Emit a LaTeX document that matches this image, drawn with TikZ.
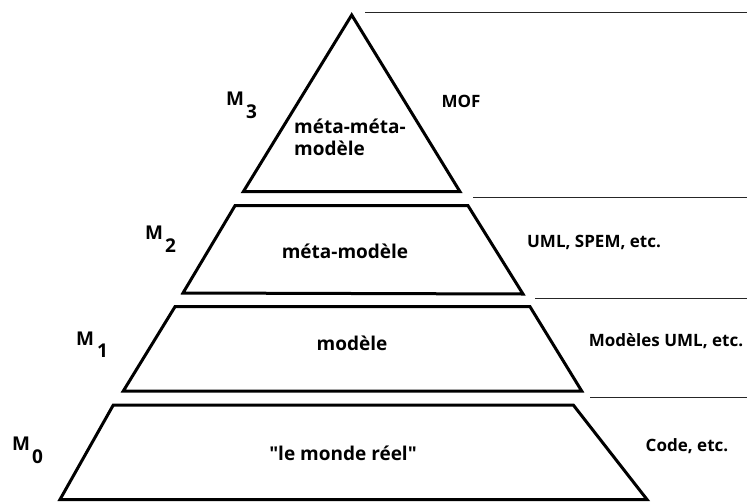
\documentclass[tikz,border=0pt]{standalone}
\usepackage{fontspec}
\setmainfont{Open Sans}[Ligatures=TeXOff]
\begin{document}
\begin{tikzpicture}[x=1pt,y=-1pt,
  tier/.style={draw=black,line width=3pt,line join=miter},
  guide/.style={draw=black!85,line width=1.1pt},
  lvl/.style={font=\bfseries\fontsize{19}{22}\selectfont,inner sep=0pt},
  meta/.style={font=\bfseries\fontsize{19}{22}\selectfont,inner sep=0pt,anchor=base west},
  std/.style={font=\bfseries\fontsize{17}{20}\selectfont,inner sep=0pt}]
\useasboundingbox (0,0) rectangle (747,501);
\fill[white] (0,0) rectangle (747,501);

% pyramid tiers
\draw[tier] (351.7,15) -- (460,191.7) -- (243.3,191.7) -- cycle;
\draw[tier] (235,205.7) -- (468,205.7) -- (523,294) -- (183,293) -- cycle;
\draw[tier] (175,306.7) -- (530,306.7) -- (581.7,391) -- (123.3,391) -- cycle;
\draw[tier] (113.3,405) -- (573.3,405) -- (647,499.5) -- (60,499.5) -- cycle;

% separators on the right
\coordinate (g3a) at (365,12.7);   \coordinate (g3b) at (747,12.7);
\coordinate (g2a) at (473,197.5);  \coordinate (g2b) at (747,197.5);
\coordinate (g1a) at (535,298.3);  \coordinate (g1b) at (747,298.3);
\coordinate (g0a) at (590,397.7);  \coordinate (g0b) at (747,397.7);
\draw[guide] (g3a) -- (g3b);
\draw[guide] (g2a) -- (g2b);
\draw[guide] (g1a) -- (g1b);
\draw[guide] (g0a) -- (g0b);

% level names
\node[meta] (m3) at (226,105) {M\kern2pt\raisebox{-13pt}{3}};
\node[meta] (m2) at (145,239) {M\kern2pt\raisebox{-13pt}{2}};
\node[meta] (m1) at (76,345) {M\kern3pt\raisebox{-12pt}{1}};
\node[meta] (m0) at (12,450) {M\kern2pt\raisebox{-13pt}{0}};

% tier contents
\node[lvl,align=left,anchor=north west] (t3) at (294,119) {méta-méta-\\[0pt]modèle};
\node[lvl] (t2) at (345,251) {méta-modèle};
\node[lvl] (t1) at (352,343) {modèle};
\node[lvl] (t0) at (343,453) {"le monde réel"};

% examples
\node[std] (e3) at (461,101) {MOF};
\node[std] (e2) at (594,242) {UML, SPEM, etc.};
\node[std] (e1) at (666,341) {Modèles UML, etc.};
\node[std] (e0) at (687,446) {Code, etc.};
\end{tikzpicture}
\end{document}
